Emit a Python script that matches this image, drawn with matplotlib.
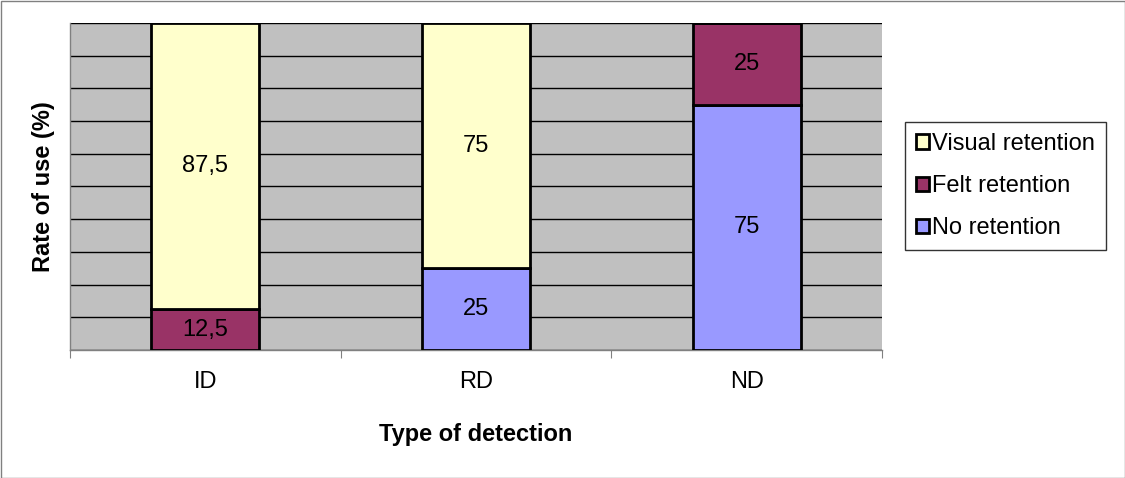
import numpy as np
import matplotlib.pyplot as plt
from matplotlib.patches import Rectangle

plt.rcParams['font.family'] = ['Liberation Sans', 'DejaVu Sans']

categories = ["ID", "RD", "ND"]
no_retention = [0, 25, 75]
felt_retention = [12.5, 0, 25]
visual_retention = [87.5, 75, 0]

fig = plt.figure(figsize=(11.25, 4.78), dpi=100)
ax = fig.add_axes([70 / 1125, 128 / 478, 812 / 1125, 327 / 478])
ax.set_facecolor('#C0C0C0')

x = np.arange(len(categories))
w = 0.4
series = [
    ("No retention", no_retention, '#9999FF'),
    ("Felt retention", felt_retention, '#993366'),
    ("Visual retention", visual_retention, '#FFFFCC'),
]
bottom = np.zeros(len(categories))
for name, vals, col in series:
    vals = np.array(vals, dtype=float)
    ax.bar(x, vals, w, bottom=bottom, color=col, edgecolor='black', linewidth=2,
           label=name, zorder=3)
    for xi, b, v in zip(x, bottom, vals):
        if v > 0:
            txt = f"{v:g}".replace('.', ',')
            ax.text(xi, b + v / 2, txt, ha='center', va='center', fontsize=17, zorder=4)
    bottom += vals

ax.set_xlim(-0.5, 2.5)
ax.set_ylim(0, 100)
ax.set_yticks(np.arange(0, 101, 10))
ax.set_yticklabels([])
ax.tick_params(axis='y', length=0)
ax.yaxis.grid(True, color='black', linewidth=1, zorder=0)
ax.set_axisbelow(True)

ax.set_xticks([-0.5, 0.5, 1.5, 2.5], minor=False)
ax.set_xticklabels([])
ax.tick_params(axis='x', length=6, color='#808080', direction='out')
ax.set_xticks(x, minor=True)
ax.set_xticklabels(categories, minor=True, fontsize=17)
ax.tick_params(axis='x', which='minor', length=0, pad=15)

for s in ['top', 'right']:
    ax.spines[s].set_visible(False)
for s in ['left', 'bottom']:
    ax.spines[s].set_color('#808080')
    ax.spines[s].set_linewidth(1)

ax.set_xlabel("Type of detection", fontsize=17, fontweight='bold', labelpad=22)
ax.set_ylabel("Rate of use (%)", fontsize=17, fontweight='bold', labelpad=7.5)

handles, labels = ax.get_legend_handles_labels()
leg = fig.legend(handles[::-1], labels[::-1], loc='center left',
                 bbox_to_anchor=(905 / 1125, 292 / 478), fontsize=17,
                 frameon=True, fancybox=False, edgecolor='black',
                 handlelength=0.55, handleheight=0.55, handletextpad=0.15,
                 labelspacing=0.85, borderpad=0.45, borderaxespad=0)
leg.get_frame().set_linewidth(1)

fig.patches.append(Rectangle((0.5 / 1125, 0.5 / 478), 1 - 1 / 1125, 1 - 1 / 478,
                             transform=fig.transFigure, fill=False,
                             edgecolor='#808080', linewidth=1))

fig.savefig("out.png", dpi=100)
